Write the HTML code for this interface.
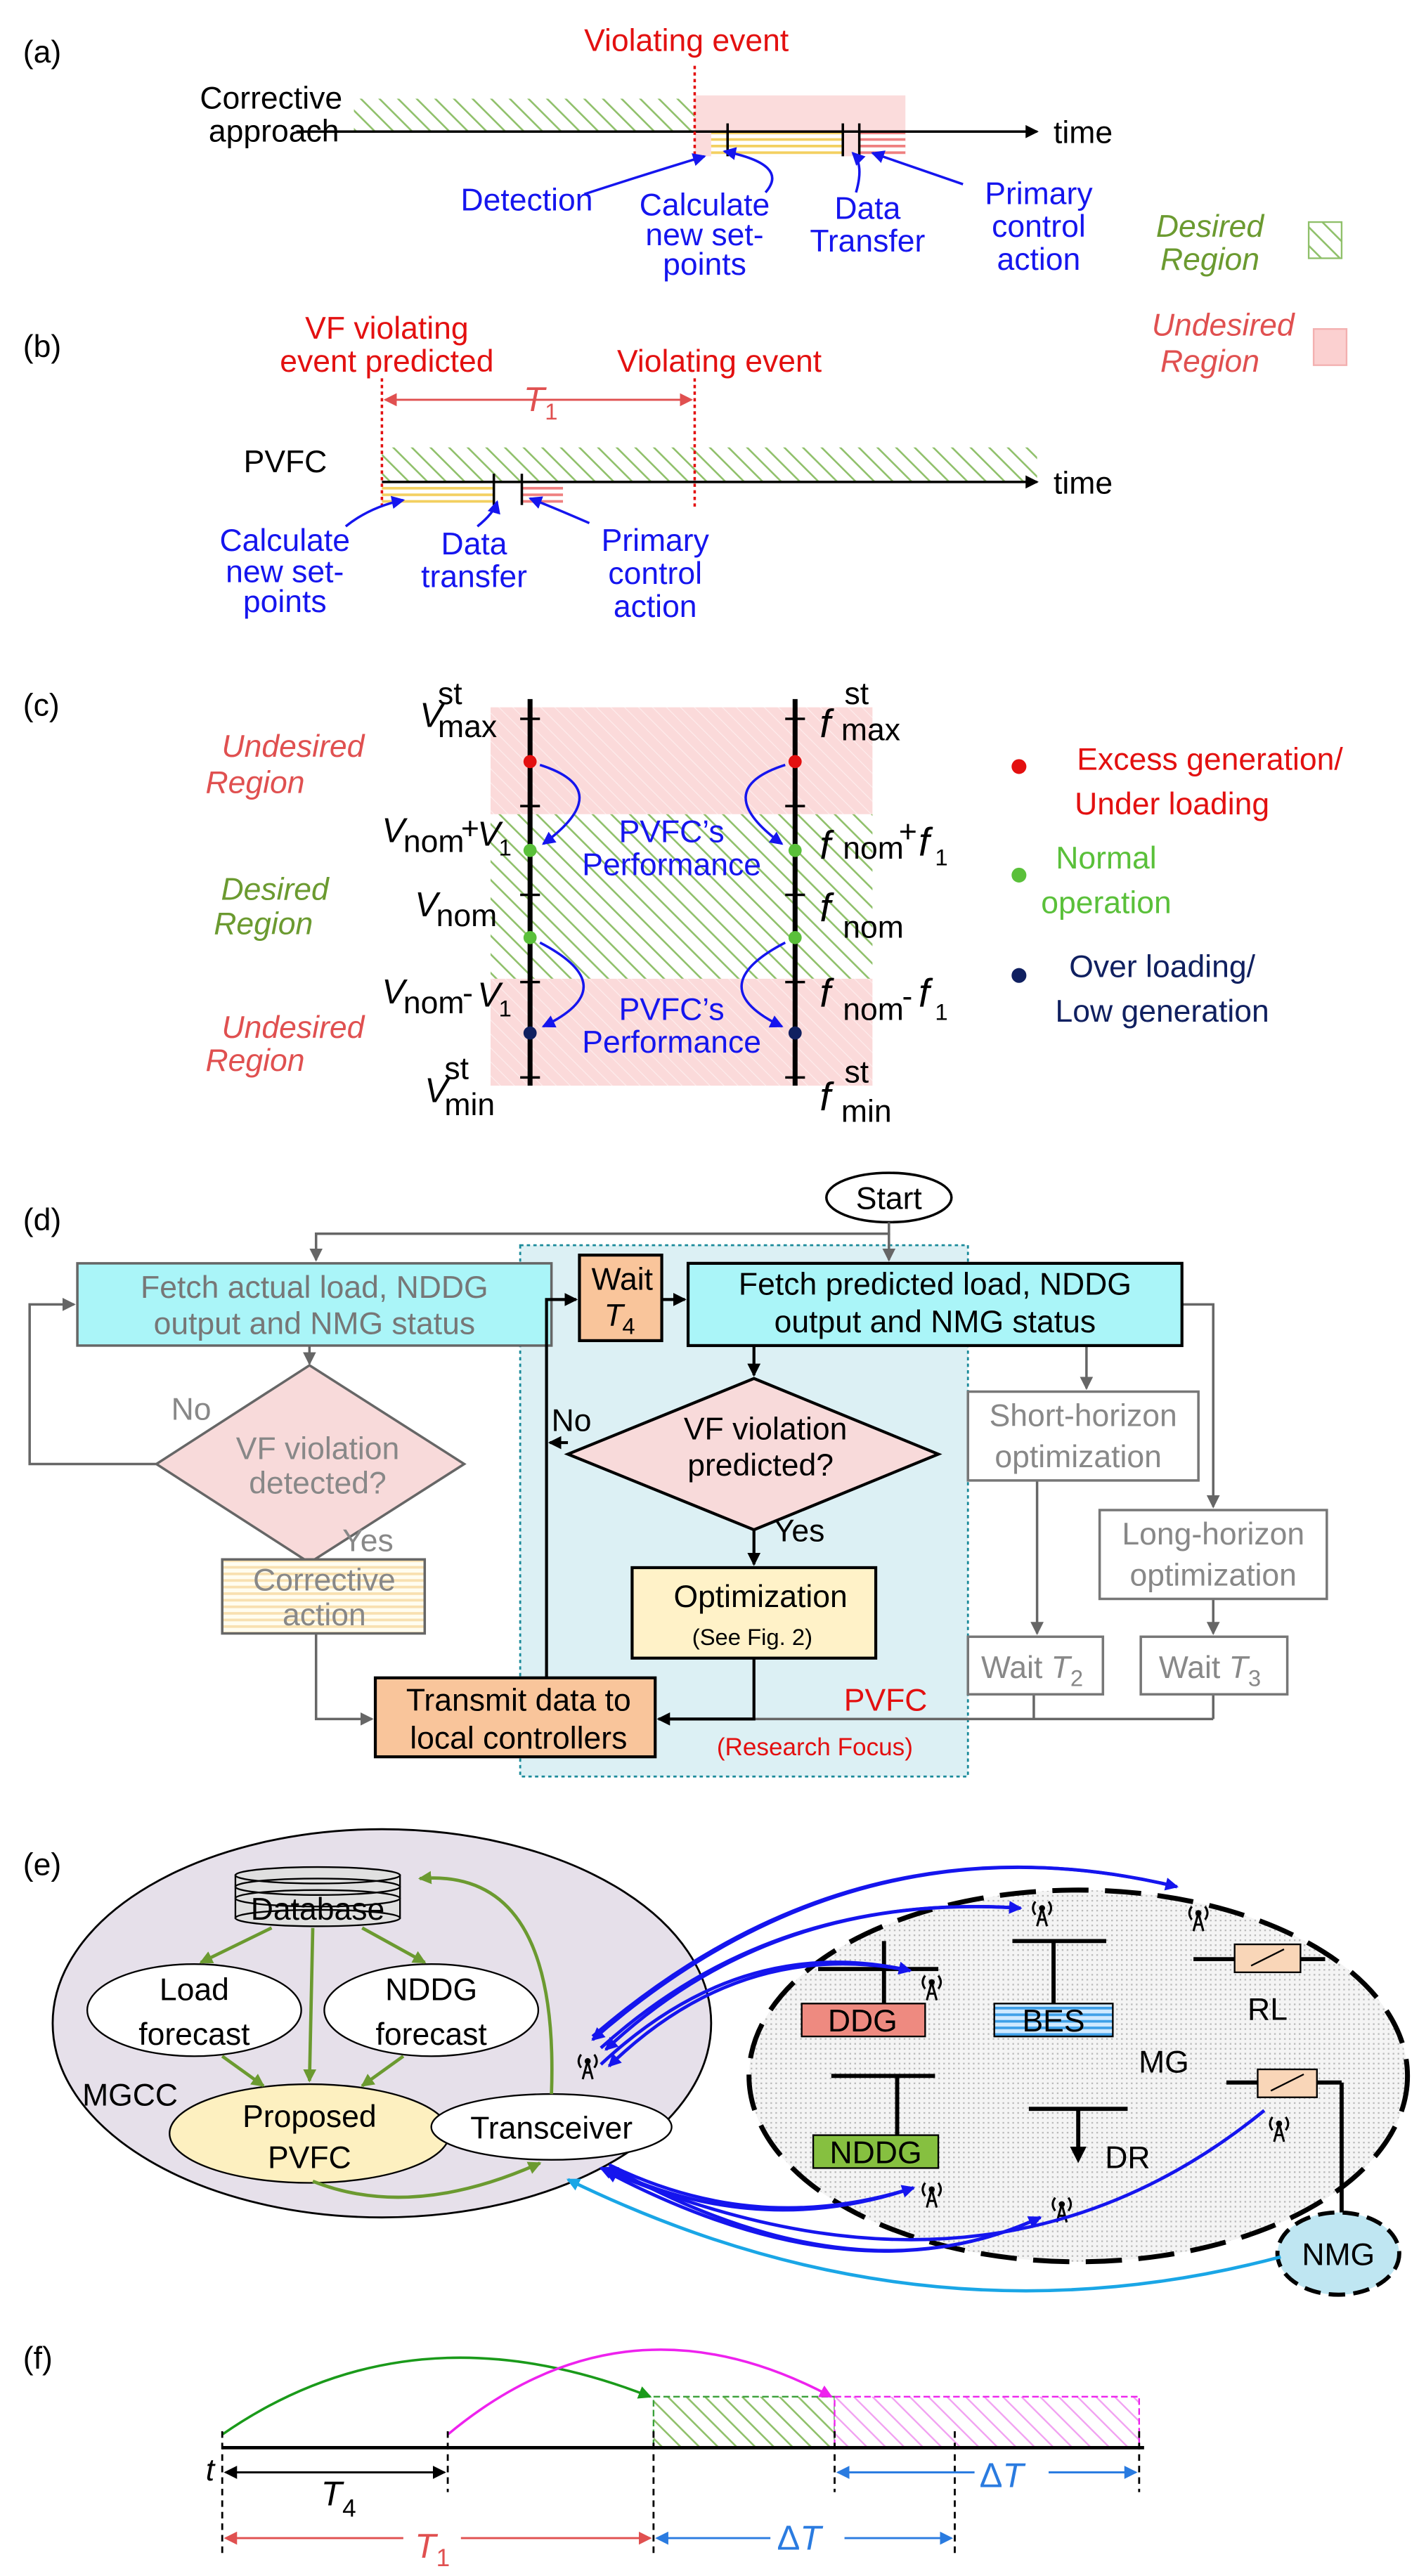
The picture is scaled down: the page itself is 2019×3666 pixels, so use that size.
<!DOCTYPE html>
<html><head><meta charset="utf-8"><style>
html,body{margin:0;padding:0;background:#fff;}
svg{display:block;}
text{font-family:"Liberation Sans",sans-serif;}
</style></head><body>
<svg width="2019" height="3666" viewBox="0 0 862 1566" preserveAspectRatio="none" xmlns="http://www.w3.org/2000/svg">
<defs>
<pattern id="gh" width="8" height="8" patternUnits="userSpaceOnUse" patternTransform="rotate(-45)"><rect width="8" height="8" fill="#fff"/><line x1="0" y1="0" x2="0" y2="8" stroke="#8fc06a" stroke-width="2.2"/></pattern>
<pattern id="ph" width="6" height="6" patternUnits="userSpaceOnUse" patternTransform="rotate(-45)"><rect width="6" height="6" fill="#fbdada"/><line x1="0" y1="0" x2="0" y2="6" stroke="#fff" stroke-width="1" opacity=".5"/></pattern>
<pattern id="ys" width="4" height="4" patternUnits="userSpaceOnUse"><rect width="4" height="4" fill="#fff"/><rect width="4" height="1.6" fill="#f3d060"/></pattern>
<pattern id="rs" width="4" height="4" patternUnits="userSpaceOnUse"><rect width="4" height="4" fill="#fff"/><rect width="4" height="1.6" fill="#ef7f7f"/></pattern>
<pattern id="cs" width="4" height="4" patternUnits="userSpaceOnUse"><rect width="4" height="4" fill="#fffdf0"/><rect width="4" height="1.6" fill="#f8e0b0"/></pattern>
<pattern id="bs" width="4" height="4" patternUnits="userSpaceOnUse"><rect width="4" height="4" fill="#cfe9ff"/><rect width="4" height="1.6" fill="#3fa0e8"/></pattern>
<pattern id="gr" width="3" height="3" patternUnits="userSpaceOnUse"><rect width="3" height="3" fill="#f4f4f4"/><rect width="1" height="1" fill="#bbb"/></pattern>
<pattern id="mh" width="8" height="8" patternUnits="userSpaceOnUse" patternTransform="rotate(-45)"><rect width="8" height="8" fill="#fff"/><line x1="0" y1="0" x2="0" y2="8" stroke="#f1a0f1" stroke-width="2"/></pattern>
<marker id="ak" markerWidth="8" markerHeight="8" refX="7" refY="4" orient="auto" markerUnits="userSpaceOnUse"><path d="M0,0L8,4L0,8z" fill="#000"/></marker>
<marker id="ag" markerWidth="8" markerHeight="8" refX="7" refY="4" orient="auto" markerUnits="userSpaceOnUse"><path d="M0,0L8,4L0,8z" fill="#666"/></marker>
<marker id="ab" markerWidth="8" markerHeight="8" refX="7" refY="4" orient="auto" markerUnits="userSpaceOnUse"><path d="M0,0L8,4L0,8z" fill="#1515ee"/></marker>
<marker id="abl" markerWidth="8" markerHeight="8" refX="7" refY="4" orient="auto" markerUnits="userSpaceOnUse"><path d="M0,0L8,4L0,8z" fill="#1aa6e6"/></marker>
<marker id="agr" markerWidth="8" markerHeight="8" refX="7" refY="4" orient="auto" markerUnits="userSpaceOnUse"><path d="M0,0L8,4L0,8z" fill="#6b9a30"/></marker>
<marker id="ar" markerWidth="8" markerHeight="8" refX="7" refY="4" orient="auto" markerUnits="userSpaceOnUse"><path d="M0,0L8,4L0,8z" fill="#e05050"/></marker>
<marker id="abb" markerWidth="8" markerHeight="8" refX="7" refY="4" orient="auto" markerUnits="userSpaceOnUse"><path d="M0,0L8,4L0,8z" fill="#2a7be0"/></marker>
<marker id="agg" markerWidth="8" markerHeight="8" refX="7" refY="4" orient="auto" markerUnits="userSpaceOnUse"><path d="M0,0L8,4L0,8z" fill="#1a9a1a"/></marker>
<marker id="amg" markerWidth="8" markerHeight="8" refX="7" refY="4" orient="auto" markerUnits="userSpaceOnUse"><path d="M0,0L8,4L0,8z" fill="#ee22ee"/></marker>
<g id="ant" fill="none" stroke="#000" stroke-width="1.3">
<path d="M0,-5 L-3,6 M0,-5 L3,6 M-2,2 L2,2"/><path d="M-4,-9 Q-7,-5 -4,-1 M4,-9 Q7,-5 4,-1"/><circle cx="0" cy="-5" r="1.2" fill="#000"/>
</g>
</defs>
<g font-size="19">
<!-- (a) -->
<text x="14" y="38">(a)</text>
<text x="417" y="31" fill="#e31010" text-anchor="middle">Violating event</text>
<text x="208" y="66" text-anchor="end">Corrective</text>
<text x="206" y="86" text-anchor="end">approach</text>
<rect x="215" y="60" width="207" height="20" fill="url(#gh)"/>
<rect x="422" y="58" width="128" height="37" fill="#fbdcdc"/>
<rect x="432" y="80" width="80" height="15" fill="url(#ys)"/>
<rect x="522" y="80" width="28" height="15" fill="url(#rs)"/>
<line x1="180" y1="80" x2="630" y2="80" stroke="#000" stroke-width="1.5" marker-end="url(#ak)"/>
<text x="640" y="87">time</text>
<line x1="422" y1="40" x2="422" y2="98" stroke="#e31010" stroke-width="1.5" stroke-dasharray="2,2"/>
<line x1="442" y1="75" x2="442" y2="95" stroke="#000" stroke-width="1.5"/>
<line x1="512" y1="75" x2="512" y2="95" stroke="#000" stroke-width="1.5"/>
<line x1="522" y1="75" x2="522" y2="95" stroke="#000" stroke-width="1.5"/>
<g fill="#1515ee" text-anchor="middle">
<text x="320" y="128">Detection</text>
<text x="428" y="131">Calculate</text><text x="428" y="149">new set-</text><text x="428" y="167">points</text>
<text x="527" y="133">Data</text><text x="527" y="153">Transfer</text>
<text x="631" y="124">Primary</text><text x="631" y="144">control</text><text x="631" y="164">action</text>
</g>
<g stroke="#1515ee" stroke-width="1.5" fill="none">
<path d="M355,118 Q395,105 428,95" marker-end="url(#ab)"/>
<path d="M465,117 Q480,100 440,92" marker-end="url(#ab)"/>
<path d="M520,117 Q525,100 518,93" marker-end="url(#ab)"/>
<path d="M585,112 Q550,100 530,93" marker-end="url(#ab)"/>
</g>
<text x="735" y="144" fill="#6b9a30" font-style="italic" text-anchor="middle">Desired</text>
<text x="735" y="164" fill="#6b9a30" font-style="italic" text-anchor="middle">Region</text>
<rect x="795" y="135" width="20" height="22" fill="url(#gh)" stroke="#8fc06a"/>
<text x="743" y="204" fill="#e05050" font-style="italic" text-anchor="middle">Undesired</text>
<text x="735" y="226" fill="#e05050" font-style="italic" text-anchor="middle">Region</text>
<rect x="798" y="200" width="20" height="22" fill="#fbd0d0" stroke="#f3b0b0"/>

<!-- (b) -->
<text x="14" y="217">(b)</text>
<text x="235" y="206" fill="#e31010" text-anchor="middle">VF violating</text>
<text x="235" y="226" fill="#e31010" text-anchor="middle">event predicted</text>
<text x="437" y="226" fill="#e31010" text-anchor="middle">Violating event</text>
<line x1="234" y1="243" x2="420" y2="243" stroke="#e05050" stroke-width="1.2" marker-end="url(#ar)"/>
<line x1="420" y1="243" x2="234" y2="243" stroke="#e05050" stroke-width="1.2" marker-end="url(#ar)"/>
<text x="318" y="250" fill="#e05050" font-style="italic" font-size="21">T</text><text x="331" y="255" fill="#e05050" font-size="14">1</text>
<text x="148" y="287">PVFC</text>
<rect x="232" y="272" width="398" height="21" fill="url(#gh)"/>
<rect x="232" y="293" width="68" height="14" fill="url(#ys)"/>
<rect x="317" y="293" width="25" height="14" fill="url(#rs)"/>
<line x1="232" y1="293" x2="630" y2="293" stroke="#000" stroke-width="1.5" marker-end="url(#ak)"/>
<text x="640" y="300">time</text>
<line x1="232" y1="230" x2="232" y2="310" stroke="#e31010" stroke-width="1.5" stroke-dasharray="2,2"/>
<line x1="422" y1="230" x2="422" y2="310" stroke="#e31010" stroke-width="1.5" stroke-dasharray="2,2"/>
<line x1="300" y1="288" x2="300" y2="307" stroke="#000" stroke-width="1.5"/>
<line x1="317" y1="288" x2="317" y2="307" stroke="#000" stroke-width="1.5"/>
<g fill="#1515ee" text-anchor="middle">
<text x="173" y="335">Calculate</text><text x="173" y="354">new set-</text><text x="173" y="372">points</text>
<text x="288" y="337">Data</text><text x="288" y="357">transfer</text>
<text x="398" y="335">Primary</text><text x="398" y="355">control</text><text x="398" y="375">action</text>
</g>
<g stroke="#1515ee" stroke-width="1.5" fill="none">
<path d="M210,320 Q225,308 245,304" marker-end="url(#ab)"/>
<path d="M290,320 Q300,312 302,305" marker-end="url(#ab)"/>
<path d="M358,318 Q335,308 322,303" marker-end="url(#ab)"/>
</g>

<!-- (c) -->
<text x="14" y="435">(c)</text>
<rect x="298" y="430" width="232" height="65" fill="url(#ph)"/>
<rect x="298" y="495" width="232" height="100" fill="url(#gh)"/>
<rect x="298" y="595" width="232" height="65" fill="url(#ph)"/>
<line x1="322" y1="425" x2="322" y2="660" stroke="#000" stroke-width="3"/>
<line x1="483" y1="425" x2="483" y2="660" stroke="#000" stroke-width="3"/>
<g stroke="#000" stroke-width="1.5">
<line x1="316" y1="437" x2="328" y2="437"/><line x1="316" y1="490" x2="328" y2="490"/><line x1="316" y1="544" x2="328" y2="544"/><line x1="316" y1="597" x2="328" y2="597"/><line x1="316" y1="655" x2="328" y2="655"/>
<line x1="477" y1="437" x2="489" y2="437"/><line x1="477" y1="490" x2="489" y2="490"/><line x1="477" y1="544" x2="489" y2="544"/><line x1="477" y1="597" x2="489" y2="597"/><line x1="477" y1="655" x2="489" y2="655"/>
</g>
<circle cx="322" cy="463" r="4" fill="#e31010"/><circle cx="483" cy="463" r="4" fill="#e31010"/>
<circle cx="322" cy="517" r="4" fill="#5ac03a"/><circle cx="483" cy="517" r="4" fill="#5ac03a"/>
<circle cx="322" cy="570" r="4" fill="#5ac03a"/><circle cx="483" cy="570" r="4" fill="#5ac03a"/>
<circle cx="322" cy="628" r="4" fill="#102060"/><circle cx="483" cy="628" r="4" fill="#102060"/>
<g stroke="#1515ee" stroke-width="1.5" fill="none">
<path d="M328,465 Q375,480 330,513" marker-end="url(#ab)"/>
<path d="M477,465 Q430,480 475,513" marker-end="url(#ab)"/>
<path d="M328,573 Q380,600 330,624" marker-end="url(#ab)"/>
<path d="M477,573 Q425,600 475,624" marker-end="url(#ab)"/>
</g>
<g fill="#1515ee" text-anchor="middle"><text x="408" y="512">PVFC’s</text><text x="408" y="532">Performance</text><text x="408" y="620">PVFC’s</text><text x="408" y="640">Performance</text></g>
<text x="255" y="442" font-size="21"><tspan font-style="italic">V</tspan></text><text x="266" y="428">st</text><text x="266" y="448">max</text>
<text x="232" y="512" font-size="21"><tspan font-style="italic">V</tspan></text><text x="245" y="518">nom</text><text x="280" y="510">+</text><text x="290" y="514" font-size="21" font-style="italic">V</text><text x="303" y="520" font-size="14">1</text>
<text x="252" y="557" font-size="21" font-style="italic">V</text><text x="265" y="563">nom</text>
<text x="232" y="610" font-size="21" font-style="italic">V</text><text x="245" y="616">nom</text><text x="281" y="610">-</text><text x="290" y="612" font-size="21" font-style="italic">V</text><text x="303" y="618" font-size="14">1</text>
<text x="258" y="670" font-size="21" font-style="italic">V</text><text x="270" y="656">st</text><text x="270" y="678">min</text>
<text x="498" y="448" font-size="24" font-family="Liberation Serif" font-style="italic">f</text><text x="513" y="428">st</text><text x="511" y="450">max</text>
<text x="498" y="522" font-size="24" font-family="Liberation Serif" font-style="italic">f</text><text x="512" y="522">nom</text><text x="546" y="512">+</text><text x="558" y="520" font-size="24" font-family="Liberation Serif" font-style="italic">f</text><text x="568" y="526" font-size="14">1</text>
<text x="498" y="560" font-size="24" font-family="Liberation Serif" font-style="italic">f</text><text x="512" y="570">nom</text>
<text x="498" y="612" font-size="24" font-family="Liberation Serif" font-style="italic">f</text><text x="512" y="620">nom</text><text x="548" y="612">-</text><text x="558" y="612" font-size="24" font-family="Liberation Serif" font-style="italic">f</text><text x="568" y="620" font-size="14">1</text>
<text x="498" y="675" font-size="24" font-family="Liberation Serif" font-style="italic">f</text><text x="513" y="658">st</text><text x="511" y="682">min</text>
<g font-style="italic" text-anchor="middle">
<text x="178" y="460" fill="#e05050">Undesired</text><text x="155" y="482" fill="#e05050">Region</text>
<text x="167" y="547" fill="#6b9a30">Desired</text><text x="160" y="568" fill="#6b9a30">Region</text>
<text x="178" y="631" fill="#e05050">Undesired</text><text x="155" y="651" fill="#e05050">Region</text>
</g>
<circle cx="619" cy="466" r="4.5" fill="#e31010"/><text x="735" y="468" fill="#e31010" text-anchor="middle">Excess generation/</text><text x="712" y="495" fill="#e31010" text-anchor="middle">Under loading</text>
<circle cx="619" cy="532" r="4.5" fill="#5ac03a"/><text x="672" y="528" fill="#5ac03a" text-anchor="middle">Normal</text><text x="672" y="555" fill="#5ac03a" text-anchor="middle">operation</text>
<circle cx="619" cy="593" r="4.5" fill="#102060"/><text x="706" y="594" fill="#102060" text-anchor="middle">Over loading/</text><text x="706" y="621" fill="#102060" text-anchor="middle">Low generation</text>

<!-- (d) -->
<text x="14" y="748">(d)</text>
<rect x="316" y="757" width="272" height="323" fill="#dcf0f4" stroke="#1a8a9a" stroke-width="1.2" stroke-dasharray="2,2"/>
<ellipse cx="540" cy="728" rx="38" ry="15" fill="#fff" stroke="#000" stroke-width="1.5"/>
<text x="540" y="735" text-anchor="middle">Start</text>
<g stroke="#666" stroke-width="1.5" fill="none">
<polyline points="540,743 540,750 192,750 192,766" marker-end="url(#ag)"/>
<line x1="540" y1="750" x2="540" y2="766" marker-end="url(#ag)"/>
<line x1="188" y1="818" x2="188" y2="829" marker-end="url(#ag)"/>
<polyline points="95,890 18,890 18,793 45,793" marker-end="url(#ag)"/>
<line x1="188" y1="950" x2="188" y2="948" marker-end="url(#ag)"/>
<polyline points="192,993 192,1045 226,1045" marker-end="url(#ag)"/>
<polyline points="718,793 737,793 737,916" marker-end="url(#ag)"/>
<line x1="660" y1="818" x2="660" y2="844" marker-end="url(#ag)"/>
<line x1="630" y1="900" x2="630" y2="993" marker-end="url(#ag)"/>
<line x1="737" y1="972" x2="737" y2="993" marker-end="url(#ag)"/>
<polyline points="628,1030 628,1045"/><polyline points="737,1030 737,1045"/>
<line x1="458" y1="1045" x2="737" y2="1045"/>
</g>
<rect x="47" y="768" width="288" height="50" fill="#aaf5f8" stroke="#666" stroke-width="1.5"/>
<text x="191" y="789" fill="#777" text-anchor="middle">Fetch actual load, NDDG</text>
<text x="191" y="811" fill="#777" text-anchor="middle">output and NMG status</text>
<polygon points="188,830 282,890 188,950 95,890" fill="#f8dada" stroke="#666" stroke-width="1.5"/>
<text x="193" y="887" fill="#888" text-anchor="middle">VF violation</text><text x="193" y="908" fill="#888" text-anchor="middle">detected?</text>
<text x="104" y="863" fill="#888">No</text><text x="208" y="943" fill="#888">Yes</text>
<rect x="135" y="948" width="123" height="45" fill="url(#cs)" stroke="#666" stroke-width="1.5"/>
<text x="197" y="967" fill="#888" text-anchor="middle">Corrective</text><text x="197" y="988" fill="#888" text-anchor="middle">action</text>
<g stroke="#000" stroke-width="1.8" fill="none">
<line x1="458" y1="818" x2="458" y2="836" marker-end="url(#ak)"/>
<line x1="458" y1="930" x2="458" y2="951" marker-end="url(#ak)"/>
<line x1="402" y1="790" x2="416" y2="790" marker-end="url(#ak)"/>
<polyline points="332,1020 332,790 350,790" marker-end="url(#ak)"/>
<line x1="345" y1="877" x2="334" y2="877" marker-end="url(#ak)"/>
<polyline points="458,1008 458,1045 400,1045" marker-end="url(#ak)"/>
</g>
<rect x="352" y="763" width="50" height="52" fill="#f9c59b" stroke="#000" stroke-width="1.8"/>
<text x="378" y="784" text-anchor="middle">Wait</text><text x="367" y="806" font-style="italic">T</text><text x="378" y="811" font-size="14">4</text>
<rect x="418" y="768" width="300" height="50" fill="#aaf5f8" stroke="#000" stroke-width="1.8"/>
<text x="568" y="787" text-anchor="middle">Fetch predicted load, NDDG</text><text x="568" y="810" text-anchor="middle">output and NMG status</text>
<polygon points="458,838 570,884 458,930 345,884" fill="#f8dada" stroke="#000" stroke-width="1.8"/>
<text x="465" y="875" text-anchor="middle">VF violation</text><text x="462" y="897" text-anchor="middle">predicted?</text>
<text x="335" y="870">No</text><text x="470" y="937">Yes</text>
<rect x="384" y="953" width="148" height="55" fill="#fff2c8" stroke="#000" stroke-width="1.8"/>
<text x="462" y="977" text-anchor="middle">Optimization</text><text x="457" y="1000" text-anchor="middle" font-size="14">(See Fig. 2)</text>
<rect x="228" y="1020" width="170" height="48" fill="#f9c59b" stroke="#000" stroke-width="1.8"/>
<text x="315" y="1040" text-anchor="middle">Transmit data to</text><text x="315" y="1063" text-anchor="middle">local controllers</text>
<text x="538" y="1040" fill="#e31010" text-anchor="middle">PVFC</text>
<text x="495" y="1067" fill="#e31010" text-anchor="middle" font-size="15">(Research Focus)</text>
<rect x="588" y="846" width="140" height="54" fill="#fff" stroke="#777" stroke-width="1.5"/>
<text x="658" y="867" fill="#888" text-anchor="middle">Short-horizon</text><text x="655" y="892" fill="#888" text-anchor="middle">optimization</text>
<rect x="668" y="918" width="138" height="54" fill="#fff" stroke="#777" stroke-width="1.5"/>
<text x="737" y="939" fill="#888" text-anchor="middle">Long-horizon</text><text x="737" y="964" fill="#888" text-anchor="middle">optimization</text>
<rect x="588" y="995" width="82" height="35" fill="#fff" stroke="#777" stroke-width="1.5"/>
<text x="596" y="1020" fill="#888">Wait <tspan font-style="italic">T</tspan><tspan font-size="14" dy="5">2</tspan></text>
<rect x="693" y="995" width="89" height="35" fill="#fff" stroke="#777" stroke-width="1.5"/>
<text x="704" y="1020" fill="#888">Wait <tspan font-style="italic">T</tspan><tspan font-size="14" dy="5">3</tspan></text>

<!-- (e) -->
<text x="14" y="1140">(e)</text>
<ellipse cx="232" cy="1230" rx="200" ry="118" fill="#e6e0ea" stroke="#000" stroke-width="1.2"/>
<ellipse cx="655" cy="1262" rx="200" ry="113" fill="url(#gr)" stroke="#000" stroke-width="3" stroke-dasharray="22,10"/>
<rect x="143" y="1140" width="100" height="26" fill="#e0e0e0" stroke="#000"/>
<ellipse cx="193" cy="1166" rx="50" ry="5" fill="#e0e0e0" stroke="#000"/>
<ellipse cx="193" cy="1140" rx="50" ry="5" fill="#e0e0e0" stroke="#000"/>
<ellipse cx="193" cy="1147" rx="50" ry="5" fill="none" stroke="#000"/>
<ellipse cx="193" cy="1154" rx="50" ry="5" fill="none" stroke="#000"/>
<text x="193" y="1167" text-anchor="middle">Database</text>
<ellipse cx="118" cy="1222" rx="65" ry="28" fill="#fff" stroke="#000"/>
<text x="118" y="1216" text-anchor="middle">Load</text><text x="118" y="1243" text-anchor="middle">forecast</text>
<ellipse cx="262" cy="1222" rx="65" ry="28" fill="#fff" stroke="#000"/>
<text x="262" y="1216" text-anchor="middle">NDDG</text><text x="262" y="1243" text-anchor="middle">forecast</text>
<ellipse cx="188" cy="1297" rx="85" ry="30" fill="#fdf0c0" stroke="#000"/>
<text x="188" y="1293" text-anchor="middle">Proposed</text><text x="188" y="1318" text-anchor="middle">PVFC</text>
<ellipse cx="335" cy="1293" rx="73" ry="20" fill="#fff" stroke="#000"/>
<text x="335" y="1300" text-anchor="middle">Transceiver</text>
<text x="50" y="1280">MGCC</text>
<g stroke="#6b9a30" stroke-width="2" fill="none">
<line x1="165" y1="1172" x2="122" y2="1193" marker-end="url(#agr)"/>
<line x1="220" y1="1172" x2="258" y2="1193" marker-end="url(#agr)"/>
<line x1="190" y1="1172" x2="188" y2="1265" marker-end="url(#agr)"/>
<line x1="135" y1="1250" x2="160" y2="1268" marker-end="url(#agr)"/>
<line x1="245" y1="1250" x2="220" y2="1268" marker-end="url(#agr)"/>
<path d="M190,1326 Q250,1350 328,1315" marker-end="url(#agr)"/>
<path d="M335,1273 Q340,1135 255,1142" marker-end="url(#agr)"/>
</g>
<use href="#ant" x="357" y="1258"/><use href="#ant" x="566" y="1210"/><use href="#ant" x="633" y="1165"/><use href="#ant" x="728" y="1168"/><use href="#ant" x="777" y="1296"/><use href="#ant" x="566" y="1336"/><use href="#ant" x="645" y="1345"/>
<g stroke="#000" stroke-width="2.5">
<line x1="497" y1="1197" x2="570" y2="1197"/><line x1="537" y1="1180" x2="537" y2="1218"/>
<line x1="615" y1="1180" x2="672" y2="1180"/><line x1="640" y1="1180" x2="640" y2="1218"/>
<line x1="505" y1="1262" x2="568" y2="1262"/><line x1="545" y1="1262" x2="545" y2="1298"/>
<line x1="625" y1="1282" x2="685" y2="1282"/><line x1="655" y1="1282" x2="655" y2="1305"/>
<line x1="725" y1="1191" x2="750" y2="1191"/><line x1="790" y1="1191" x2="805" y2="1191"/>
<line x1="745" y1="1266" x2="764" y2="1266"/><line x1="800" y1="1266" x2="815" y2="1266"/><line x1="815" y1="1266" x2="815" y2="1345"/>
</g>
<path d="M655,1305 L650,1305 L655,1315 L660,1305z" fill="#000"/>
<rect x="487" y="1218" width="75" height="20" fill="#ee8a80" stroke="#000"/><text x="524" y="1235" text-anchor="middle">DDG</text>
<rect x="604" y="1218" width="72" height="20" fill="url(#bs)" stroke="#000"/><text x="640" y="1235" text-anchor="middle">BES</text>
<rect x="494" y="1298" width="76" height="20" fill="#86c040" stroke="#000"/><text x="532" y="1315" text-anchor="middle">NDDG</text>
<rect x="750" y="1182" width="40" height="17" fill="#f9d6b8" stroke="#000"/><line x1="760" y1="1195" x2="780" y2="1185" stroke="#000"/>
<text x="770" y="1228" text-anchor="middle">RL</text>
<rect x="764" y="1258" width="36" height="17" fill="#f9d6b8" stroke="#000"/><line x1="772" y1="1271" x2="792" y2="1261" stroke="#000"/>
<text x="707" y="1260" text-anchor="middle">MG</text>
<text x="685" y="1318" text-anchor="middle">DR</text>
<ellipse cx="813" cy="1370" rx="37" ry="25" fill="#bfe6f2" stroke="#000" stroke-width="2.5" stroke-dasharray="10,5"/>
<text x="813" y="1377" text-anchor="middle">NMG</text>
<g stroke="#1515ee" stroke-width="2" fill="none">
<path d="M360,1238 Q520,1100 715,1147" marker-end="url(#ab)"/>
<path d="M365,1245 Q470,1150 620,1160" marker-end="url(#ab)"/><path d="M620,1160 Q470,1150 368,1246" marker-end="url(#ab)"/>
<path d="M365,1255 Q450,1175 553,1198" marker-end="url(#ab)"/><path d="M553,1198 Q450,1178 370,1256" marker-end="url(#ab)"/>
<path d="M715,1147 Q520,1100 360,1240" marker-end="url(#ab)"/>
<path d="M370,1316 Q460,1360 555,1330" marker-end="url(#ab)"/><path d="M555,1330 Q460,1362 368,1318" marker-end="url(#ab)"/>
<path d="M372,1318 Q520,1400 632,1348" marker-end="url(#ab)"/><path d="M632,1348 Q520,1400 368,1320" marker-end="url(#ab)"/>
<path d="M768,1283 Q600,1420 365,1318" marker-end="url(#ab)"/>
</g>
<path d="M778,1372 Q560,1430 345,1325" stroke="#1aa6e6" stroke-width="2" fill="none" marker-end="url(#abl)"/>

<!-- (f) -->
<text x="14" y="1440">(f)</text>
<rect x="397" y="1457" width="110" height="31" fill="url(#gh)" stroke="#3aa03a" stroke-dasharray="4,2"/>
<rect x="507" y="1457" width="185" height="31" fill="url(#mh)" stroke="#ee22ee" stroke-dasharray="4,2"/>
<path d="M135,1480 Q250,1400 395,1457" stroke="#1a9a1a" stroke-width="1.5" fill="none" marker-end="url(#agg)"/>
<path d="M272,1480 Q380,1390 505,1457" stroke="#ee22ee" stroke-width="1.5" fill="none" marker-end="url(#amg)"/>
<line x1="135" y1="1488" x2="695" y2="1488" stroke="#000" stroke-width="2"/>
<g stroke="#000" stroke-width="1.2" stroke-dasharray="4,3">
<line x1="135" y1="1478" x2="135" y2="1555"/><line x1="272" y1="1478" x2="272" y2="1515"/><line x1="397" y1="1478" x2="397" y2="1555"/><line x1="507" y1="1478" x2="507" y2="1515"/><line x1="580" y1="1478" x2="580" y2="1555"/><line x1="692" y1="1478" x2="692" y2="1515"/>
</g>
<text x="125" y="1508" font-style="italic">t</text>
<line x1="137" y1="1503" x2="270" y2="1503" stroke="#000" stroke-width="1.2" marker-end="url(#ak)"/><line x1="270" y1="1503" x2="137" y2="1503" stroke="#000" stroke-width="1.2" marker-end="url(#ak)"/>
<rect x="185" y="1505" width="45" height="25" fill="#fff"/>
<text x="195" y="1523" font-size="21" font-style="italic">T</text><text x="208" y="1530" font-size="15">4</text>
<line x1="137" y1="1543" x2="395" y2="1543" stroke="#e05050" stroke-width="1.2" marker-end="url(#ar)"/><line x1="395" y1="1543" x2="137" y2="1543" stroke="#e05050" stroke-width="1.2" marker-end="url(#ar)"/>
<rect x="245" y="1535" width="35" height="25" fill="#fff"/>
<text x="252" y="1555" fill="#e05050" font-size="21" font-style="italic">T</text><text x="265" y="1560" fill="#e05050" font-size="15">1</text>
<line x1="399" y1="1543" x2="578" y2="1543" stroke="#2a7be0" stroke-width="1.2" marker-end="url(#abb)"/><line x1="578" y1="1543" x2="399" y2="1543" stroke="#2a7be0" stroke-width="1.2" marker-end="url(#abb)"/>
<rect x="468" y="1530" width="45" height="25" fill="#fff"/>
<text x="472" y="1550" fill="#2a7be0" font-size="21">Δ<tspan font-style="italic">T</tspan></text>
<line x1="509" y1="1503" x2="690" y2="1503" stroke="#2a7be0" stroke-width="1.2" marker-end="url(#abb)"/><line x1="690" y1="1503" x2="509" y2="1503" stroke="#2a7be0" stroke-width="1.2" marker-end="url(#abb)"/>
<rect x="592" y="1495" width="45" height="22" fill="#fff"/>
<text x="595" y="1512" fill="#2a7be0" font-size="21">Δ<tspan font-style="italic">T</tspan></text>
</g>
</svg>
</body></html>
